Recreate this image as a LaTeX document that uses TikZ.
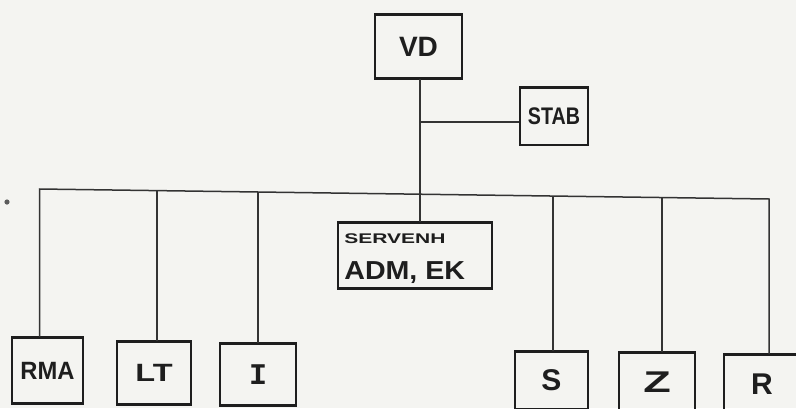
\documentclass[tikz,border=0pt]{standalone}
\usepackage{fontspec}
\usetikzlibrary{calc}
\newfontfamily\lbl{Liberation Sans}
\newfontfamily\lblmono{Liberation Mono}
\definecolor{paper}{HTML}{F4F4F1}
\definecolor{ink}{HTML}{1E1E1E}
\definecolor{wire}{HTML}{333333}
\begin{document}
\begin{tikzpicture}[x=1pt,y=-1pt,
  box/.style={draw=ink, line width=1.7pt, inner sep=0pt, text=ink,
              font=\lbl\bfseries\fontsize{25}{25}\selectfont},
  wirestyle/.style={draw=wire, line width=1.5pt},
  thicktop/.style={draw=ink, line width=2.8pt},
  lab/.style={inner sep=0pt, text=ink, anchor=west}]
\useasboundingbox (0,0) rectangle (796,408);
\fill[paper] (0,0) rectangle (796,408);
\clip (0,0) rectangle (796,408);

% boxes
\node[box, minimum width=87pt, minimum height=63pt] (VD) at (418.5,46.5)
  {\raisebox{-4pt}{\fontsize{28}{28}\selectfont VD}};
\node[box, minimum width=68pt, minimum height=57pt] (STAB) at (554,116.5)
  {\raisebox{-3pt}{\scalebox{0.82}[1]{\fontsize{24}{24}\selectfont STAB}}};
\node[box, minimum width=154pt, minimum height=65pt] (SERV) at (415,255.5) {};
\node[lab] (servA) at ($(SERV.north west)+(7,17)$)
  {\scalebox{1.5}[1]{\lbl\bfseries\fontsize{14}{14}\selectfont SERVENH}};
\node[lab] (servB) at ($(SERV.north west)+(7,50)$)
  {\scalebox{1.1}[1]{\lbl\bfseries\fontsize{26}{26}\selectfont ADM, EK}};

\node[box, minimum width=71pt, minimum height=65pt] (RMA) at (47.5,370.5)
  {\raisebox{-3pt}{\scalebox{0.95}[1]{\fontsize{25}{25}\selectfont RMA}}};
\node[box, minimum width=74pt, minimum height=62pt] (LT) at (154,373)
  {\scalebox{1.3}[1]{\fontsize{25}{25}\selectfont LT}};
\node[box, minimum width=76pt, minimum height=61pt] (I) at (258,374.5)
  {\lblmono\bfseries\fontsize{30}{30}\selectfont I};
\node[box, minimum width=73pt, minimum height=57pt] (S) at (551.5,380.5)
  {\fontsize{30}{30}\selectfont S};
\node[box, minimum width=76pt, minimum height=59pt] (Z) at (657,382.5)
  {\scalebox{1.5}[1]{\fontsize{30}{30}\selectfont Z}};
\node[box, minimum width=76pt, minimum height=59pt] (R) at (762,384.5)
  {\fontsize{30}{30}\selectfont R};

% heavier ink along the top edges
\foreach \n in {VD,STAB,SERV,RMA,LT,I,S,Z,R}
  \draw[thicktop] (\n.north west) -- (\n.north east);
\foreach \n in {VD,SERV,RMA,LT,I}
  \draw[thicktop] (\n.south west) -- (\n.south east);

% junction coordinates
\coordinate (trunk) at (420,194);
\coordinate (stabj) at (420,122);
\coordinate (barL) at (39.5,189);
\coordinate (barR) at (769,199);
\coordinate (jLT) at (157,190.6);
\coordinate (jI) at (258,192);
\coordinate (jS) at (553,196);
\coordinate (jZ) at (662,197.5);

% connectors
\draw[wirestyle] (trunk |- VD.south) -- (trunk |- SERV.north);
\draw[wirestyle] (stabj) -- (stabj -| STAB.west);
\draw[wirestyle, line join=miter] (barL |- RMA.north) -- (barL) -- (barR) -- (barR |- R.north);
\draw[wirestyle] (jLT) -- (jLT |- LT.north);
\draw[wirestyle] (jI) -- (jI |- I.north);
\draw[wirestyle] (jS) -- (jS |- S.north);
\draw[wirestyle] (jZ) -- (jZ |- Z.north);

% stray dot
\fill[wire!80] (7,202) circle (2.6pt);
\end{tikzpicture}
\end{document}
